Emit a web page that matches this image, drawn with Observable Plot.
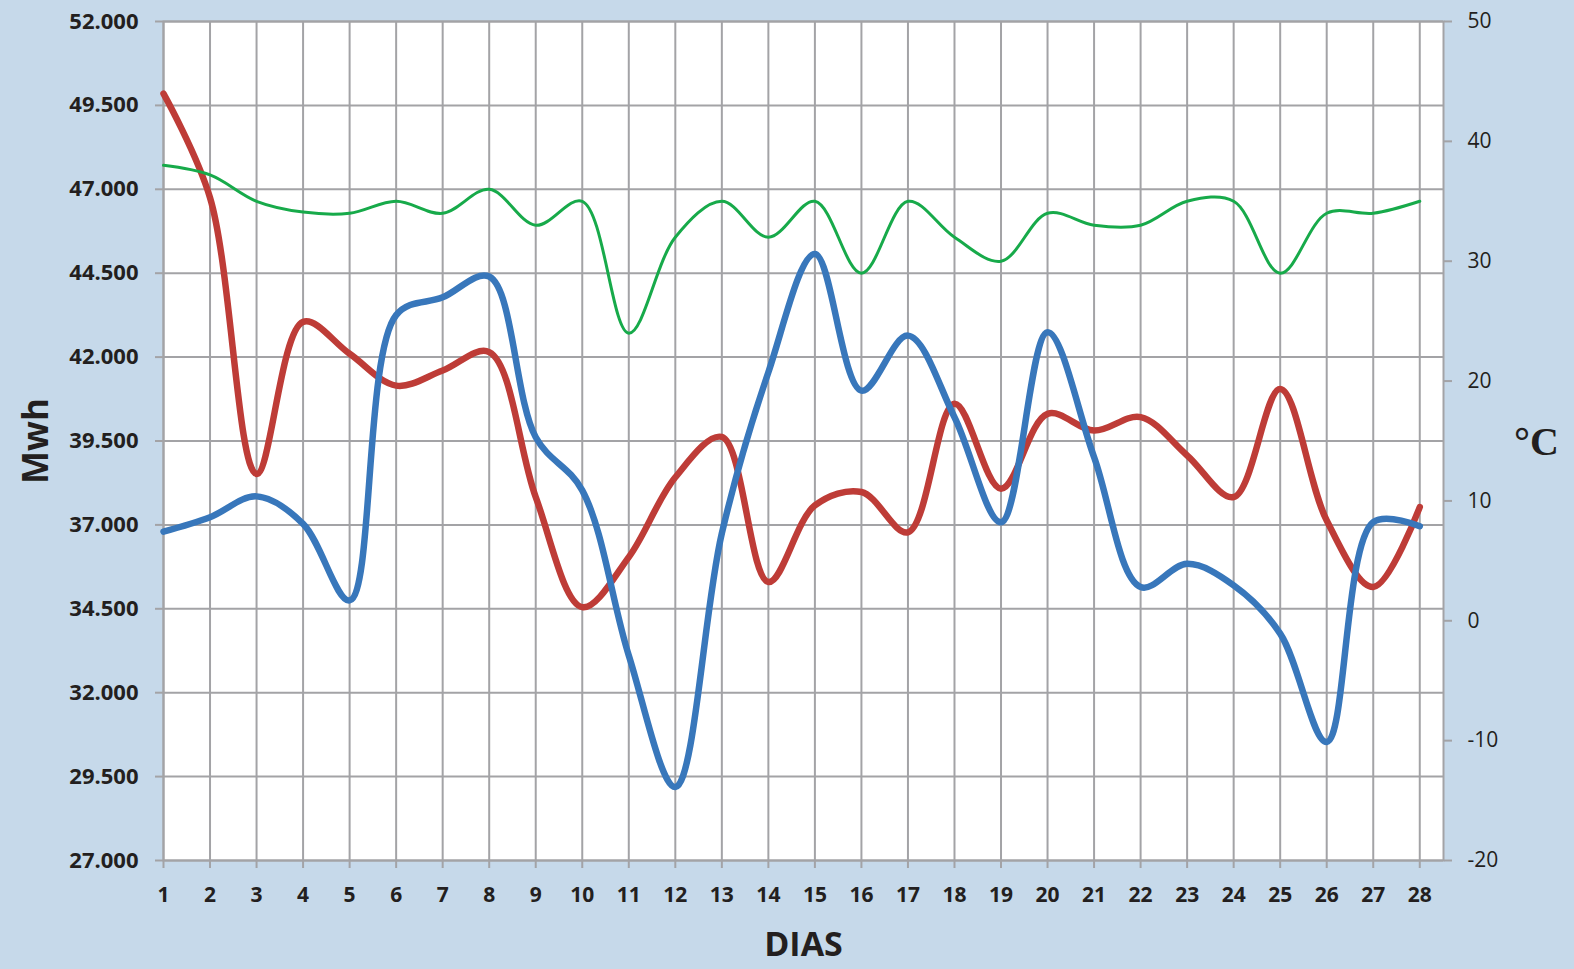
<!DOCTYPE html>
<html>
<head>
<meta charset="utf-8">
<script src="https://cdn.jsdelivr.net/npm/d3@7"></script>
<script src="https://cdn.jsdelivr.net/npm/@observablehq/plot@0.6"></script>
<style>
  html, body { margin: 0; padding: 0; background: #c6d9ea; }
  #chart svg { display: block; }
</style>
</head>
<body>
<div id="chart"></div>
<script>
// ---- data ----
const days = [1,2,3,4,5,6,7,8,9,10,11,12,13,14,15,16,17,18,19,20,21,22,23,24,25,26,27,28];
const mwhBlue = [36800, 37230, 37850, 37030, 34750, 43250, 43780, 44400, 39610, 38030, 33110, 29190, 36750, 41550,
                 45070, 41000, 42640, 40210, 37080, 42740, 39020, 35150, 35840, 35200, 33760, 30530, 37080, 36960];
const mwhRed  = [49850, 46750, 38520, 43050, 42100, 41150, 41600, 42150, 37830, 34550, 36040, 38420, 39620, 35300,
                 37580, 37980, 36780, 40610, 38080, 40310, 39810, 40210, 39070, 37830, 41050, 37130, 35150, 37530];
const tempGreen = [38, 37.2, 35, 34.1, 34, 35, 34, 36, 33, 35, 24, 32, 35, 32,
                   35, 29, 35, 32, 30, 34, 33, 33, 35, 35, 29, 34, 34, 35];
const mwhTicks = [27000, 29500, 32000, 34500, 37000, 39500, 42000, 44500, 47000, 49500, 52000];
const tempTicks = [-20, -10, 0, 10, 20, 30, 40, 50];
const xLabel = "DIAS";
const yLabel = "Mwh";
const y2Label = "°C";

// ---- scales mapping ----
const mwhDomain = [27000, 52000];
const tempDomain = [-20, 50];
const tempToMwh = t => mwhDomain[0] + (t - tempDomain[0]) * (mwhDomain[1] - mwhDomain[0]) / (tempDomain[1] - tempDomain[0]);
const mwhToTemp = v => tempDomain[0] + (v - mwhDomain[0]) * (tempDomain[1] - tempDomain[0]) / (mwhDomain[1] - mwhDomain[0]);

const rows = days.map((d, i) => ({day: d, blue: mwhBlue[i], red: mwhRed[i], temp: tempGreen[i]}));

const gridColor = "#a3a3a6";
const textColor = "#231f20";
const fmtMwh = d => d3.format(",")(d).replace(/,/g, ".");
const curve = "catmull-rom";

const chart = Plot.plot({
  width: 1574,
  height: 969,
  marginLeft: 163,
  marginRight: 131,
  marginTop: 21,
  marginBottom: 109,
  style: {background: "transparent", fontFamily: "'Open Sans', sans-serif", overflow: "visible"},
  x: {domain: [1, 28.51]},
  y: {domain: mwhDomain},
  marks: [
    Plot.frame({fill: "white", stroke: gridColor, strokeWidth: 2}),
    Plot.gridY(mwhTicks, {stroke: gridColor, strokeOpacity: 1, strokeWidth: 2}),
    Plot.gridX(days, {stroke: gridColor, strokeOpacity: 1, strokeWidth: 2}),
    Plot.axisY(mwhTicks, {anchor: "left", tickSize: 8, tickPadding: 17, tickFormat: fmtMwh,
      fontSize: 22, fontWeight: "bold", color: textColor, stroke: gridColor, strokeWidth: 2, label: null}),
    Plot.axisY(tempTicks.map(tempToMwh), {anchor: "right", tickSize: 8, tickPadding: 16,
      tickFormat: d => String(Math.round(mwhToTemp(d))),
      fontSize: 21, color: textColor, stroke: gridColor, strokeWidth: 2, label: null}),
    Plot.axisX(days, {tickSize: 8, tickPadding: 19, tickFormat: d => String(d),
      fontSize: 21, fontWeight: "bold", color: textColor, stroke: gridColor, strokeWidth: 2, label: null}),
    Plot.line(rows, {x: "day", y: "red", curve, stroke: "#be3c37", strokeWidth: 6.5,
      strokeLinecap: "round", strokeLinejoin: "round"}),
    Plot.line(rows, {x: "day", y: "blue", curve, stroke: "#3877bb", strokeWidth: 6.5,
      strokeLinecap: "round", strokeLinejoin: "round"}),
    Plot.line(rows, {x: "day", y: d => tempToMwh(d.temp), curve, stroke: "#17aa4a", strokeWidth: 3,
      strokeLinecap: "round", strokeLinejoin: "round"}),
    Plot.text([yLabel], {frameAnchor: "left", dx: -127, rotate: -90, textAnchor: "middle", lineAnchor: "middle",
      fontSize: 35, fontWeight: "bold", fill: textColor}),
    Plot.text([xLabel], {frameAnchor: "bottom", dy: 85, textAnchor: "middle", lineAnchor: "middle",
      fontSize: 34, fontWeight: "bold", fill: textColor}),
    Plot.text([y2Label], {frameAnchor: "right", dx: 93, dy: 1, textAnchor: "middle", lineAnchor: "middle",
      fontSize: 40, fontWeight: "bold", fontFamily: "'Liberation Serif', serif", fill: textColor})
  ]
});
document.getElementById("chart").appendChild(chart);
</script>
</body>
</html>
